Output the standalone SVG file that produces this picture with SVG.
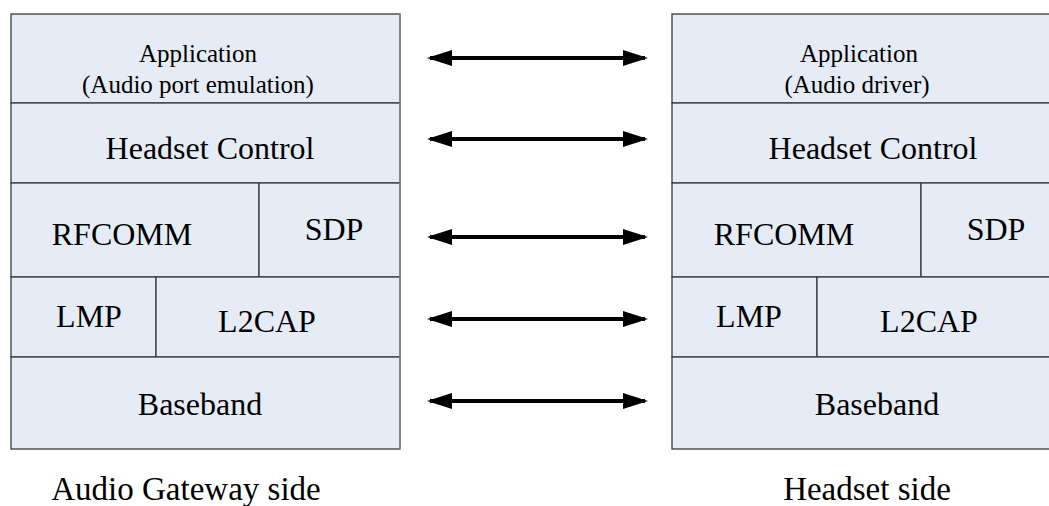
<svg xmlns="http://www.w3.org/2000/svg" width="1049" height="506" viewBox="0 0 1049 506">
<style>
.cell{fill:#E6ECF6;stroke:#3a3a3a;stroke-width:1.3}
.t{fill:#000;text-anchor:middle;font-family:"Liberation Serif","Times New Roman","DejaVu Serif",serif}
.big{font-size:32px}
.sm{font-size:25px}
.lbl{font-size:33px}
.conn{stroke:#000;stroke-width:4;fill:none;marker-start:url(#ah);marker-end:url(#ah)}
</style>
<defs>
<marker id="ah" viewBox="0 0 25 16" refX="22" refY="8" markerWidth="25" markerHeight="16" markerUnits="userSpaceOnUse" orient="auto-start-reverse">
<path d="M0,0 L25,8 L0,16 Z" fill="#000"/>
</marker>
</defs>
<rect width="1049" height="506" fill="#fff"/>
<g id="left-stack">
<g id="l-app"><rect class="cell" x="11" y="14" width="389" height="89"/><text class="t sm" x="198" y="62">Application</text><text class="t sm" x="198" y="93">(Audio port emulation)</text></g>
<g id="l-hc"><rect class="cell" x="11" y="103" width="389" height="80"/><text class="t big" x="210" y="159">Headset Control</text></g>
<g id="l-rfcomm"><rect class="cell" x="11" y="183" width="248" height="94"/><text class="t big" x="122" y="245">RFCOMM</text></g>
<g id="l-sdp"><rect class="cell" x="259" y="183" width="141" height="94"/><text class="t big" x="334" y="240">SDP</text></g>
<g id="l-lmp"><rect class="cell" x="11" y="277" width="145" height="80"/><text class="t big" x="89" y="327">LMP</text></g>
<g id="l-l2cap"><rect class="cell" x="156" y="277" width="244" height="80"/><text class="t big" x="267" y="332">L2CAP</text></g>
<g id="l-bb"><rect class="cell" x="11" y="357" width="389" height="92"/><text class="t big" x="200" y="415">Baseband</text></g>
<line x1="400" y1="14" x2="400" y2="449" stroke="#8a8a8a" stroke-width="1.5"/>
</g>
<g id="right-stack">
<g id="r-app"><rect class="cell" x="672" y="14" width="400" height="89"/><text class="t sm" x="859" y="62">Application</text><text class="t sm" x="857" y="93">(Audio driver)</text></g>
<g id="r-hc"><rect class="cell" x="672" y="103" width="400" height="80"/><text class="t big" x="873" y="159">Headset Control</text></g>
<g id="r-rfcomm"><rect class="cell" x="672" y="183" width="249" height="94"/><text class="t big" x="784" y="245">RFCOMM</text></g>
<g id="r-sdp"><rect class="cell" x="921" y="183" width="151" height="94"/><text class="t big" x="996" y="240">SDP</text></g>
<g id="r-lmp"><rect class="cell" x="672" y="277" width="145" height="80"/><text class="t big" x="749" y="327">LMP</text></g>
<g id="r-l2cap"><rect class="cell" x="817" y="277" width="255" height="80"/><text class="t big" x="929" y="332">L2CAP</text></g>
<g id="r-bb"><rect class="cell" x="672" y="357" width="400" height="92"/><text class="t big" x="877" y="415">Baseband</text></g>
</g>
<g id="captions">
<text class="t lbl" x="186" y="500">Audio Gateway side</text>
<text class="t lbl" x="867" y="500">Headset side</text>
</g>
<g id="connectors">
<line class="conn" x1="430" y1="58" x2="645" y2="58"/>
<line class="conn" x1="430" y1="139" x2="645" y2="139"/>
<line class="conn" x1="430" y1="237" x2="645" y2="237"/>
<line class="conn" x1="430" y1="319" x2="645" y2="319"/>
<line class="conn" x1="430" y1="401" x2="645" y2="401"/>
</g>
</svg>
